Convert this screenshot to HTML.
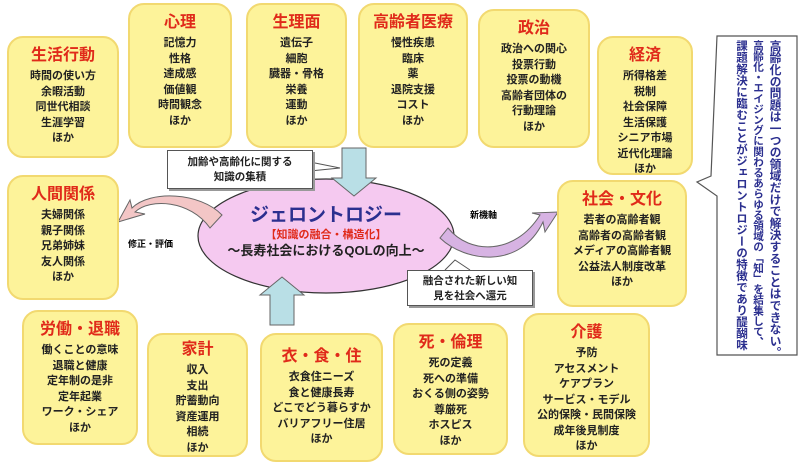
<!DOCTYPE html>
<html><head><meta charset="utf-8"><style>
body{margin:0;width:805px;height:465px;background:#fff;position:relative;overflow:hidden;font-family:"Liberation Sans","Noto Sans CJK JP",sans-serif;}
.b{position:absolute;background:#fdf39a;border:2px solid #f2d970;border-radius:16px;box-sizing:border-box;text-align:center;font-weight:bold;color:#222;font-size:11px;line-height:15.5px;}
.b h{display:block;color:#e02a1a;font-size:16px;line-height:20px;margin:8px 0 3px;}
.c{position:absolute;background:#fff;border:1px solid #555;box-shadow:2px 2px 0 #999;font-size:10.5px;font-weight:bold;text-align:center;line-height:15px;color:#222;}
svg{position:absolute;left:0;top:0;}
.v{position:absolute;top:40px;writing-mode:vertical-rl;font-weight:bold;color:#2b2f8f;line-height:16px;white-space:nowrap;}
</style></head><body>
<svg width="805" height="465">
 <ellipse cx="326" cy="236" rx="128" ry="57" fill="#f5c9f0" stroke="#333" stroke-width="1.2"/>
 <path d="M342 148 H366 V178 H376 L354 196 L332 178 H342 Z" fill="#b9dfe6" stroke="#666"/>
 <path d="M270 325 H294 V295 H304 L282 277 L260 295 H270 Z" fill="#b9dfe6" stroke="#666"/>
 <path d="M210 228 C190 200 150 198 135 212 L145 214 L118 222 L130 200 L132 208 C150 190 200 192 222 215 Z" fill="#f3c6c6" stroke="#666"/>
 <path d="M448 228 C470 255 515 255 540 215 L532 213 L558 212 L545 232 L543 222 C520 270 465 262 440 238 Z" fill="#d7b3e3" stroke="#666"/>
 <path d="M300 160 L340 168 L300 172" fill="#fff" stroke="#555"/>
 <path d="M445 270 L455 260 L470 270" fill="#fff" stroke="#555"/>
 <path d="M717 36 H797 V355 H717 V196 L697 182 L711 176 Z" fill="#fff" stroke="#555" stroke-width="1.2"/>
</svg>
<div class="c" style="left:167px;top:150px;width:146px;height:39px;padding-top:4px;box-sizing:border-box;">加齢や高齢化に関する<br>知識の集積</div>
<div class="c" style="left:407px;top:270px;width:126px;height:36px;padding-top:3px;box-sizing:border-box;">融合された新しい知<br>見を社会へ還元</div>
<div style="position:absolute;left:326px;top:204px;width:0;">
 <div style="position:absolute;left:-120px;width:240px;text-align:center;font-weight:bold;">
  <div style="color:#2b2f8f;font-size:19px;line-height:24px;">ジェロントロジー</div>
  <div style="color:#e02a1a;font-size:11px;line-height:14px;">【知識の融合・構造化】</div>
  <div style="color:#222;font-size:13px;line-height:18px;">～長寿社会におけるQOLの向上～</div>
 </div>
</div>
<div style="position:absolute;left:128px;top:237px;font-size:9px;font-weight:bold;">修正・評価</div>
<div style="position:absolute;left:470px;top:208px;font-size:9px;font-weight:bold;">新機軸</div>
<div class="v" style="left:767px;font-size:11.8px;">高齢化の問題は一つの領域だけで解決することはできない。</div>
<div class="v" style="left:750px;font-size:10.6px;">高齢化・エイジングに関わるあらゆる領域の「知」を結集して、</div>
<div class="v" style="left:733px;font-size:11.5px;">課題解決に臨むことがジェロントロジーの特徴であり醍醐味</div>

<div class="b" style="left:7px;top:36px;width:112px;height:122px;"><h>生活行動</h>時間の使い方<br>余暇活動<br>同世代相談<br>生涯学習<br>ほか</div>
<div class="b" style="left:128px;top:3px;width:104px;height:145px;"><h>心理</h>記憶力<br>性格<br>達成感<br>価値観<br>時間観念<br>ほか</div>
<div class="b" style="left:246px;top:3px;width:101px;height:145px;"><h>生理面</h>遺伝子<br>細胞<br>臓器・骨格<br>栄養<br>運動<br>ほか</div>
<div class="b" style="left:358px;top:3px;width:110px;height:145px;"><h>高齢者医療</h>慢性疾患<br>臨床<br>薬<br>退院支援<br>コスト<br>ほか</div>
<div class="b" style="left:478px;top:9px;width:112px;height:139px;"><h>政治</h>政治への関心<br>投票行動<br>投票の動機<br>高齢者団体の<br>行動理論<br>ほか</div>
<div class="b" style="left:597px;top:36px;width:96px;height:139px;"><h>経済</h>所得格差<br>税制<br>社会保障<br>生活保護<br>シニア市場<br>近代化理論<br>ほか</div>
<div class="b" style="left:557px;top:180px;width:130px;height:127px;"><h>社会・文化</h>若者の高齢者観<br>高齢者の高齢者観<br>メディアの高齢者観<br>公益法人制度改革<br>ほか</div>
<div class="b" style="left:7px;top:175px;width:112px;height:125px;"><h>人間関係</h>夫婦関係<br>親子関係<br>兄弟姉妹<br>友人関係<br>ほか</div>
<div class="b" style="left:22px;top:310px;width:116px;height:135px;"><h>労働・退職</h>働くことの意味<br>退職と健康<br>定年制の是非<br>定年起業<br>ワーク・シェア<br>ほか</div>
<div class="b" style="left:147px;top:333px;width:101px;height:124px;"><h style="margin-top:5px">家計</h>収入<br>支出<br>貯蓄動向<br>資産運用<br>相続<br>ほか</div>
<div class="b" style="left:260px;top:333px;width:123px;height:129px;"><h style="margin-top:12px">衣・食・住</h>衣食住ニーズ<br>食と健康長寿<br>どこでどう暮らすか<br>バリアフリー住居<br>ほか</div>
<div class="b" style="left:393px;top:323px;width:115px;height:132px;"><h>死・倫理</h>死の定義<br>死への準備<br>おくる側の姿勢<br>尊厳死<br>ホスピス<br>ほか</div>
<div class="b" style="left:523px;top:313px;width:127px;height:144px;"><h>介護</h>予防<br>アセスメント<br>ケアプラン<br>サービス・モデル<br>公的保険・民間保険<br>成年後見制度<br>ほか</div>
</body></html>
